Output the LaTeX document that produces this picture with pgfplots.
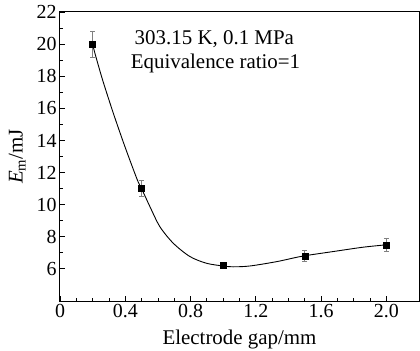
\documentclass[border=0pt]{standalone}
\usepackage{fontspec}
\setmainfont{Liberation Serif}
\usepackage{pgfplots}
\pgfplotsset{compat=1.18}
\begin{document}
\begin{tikzpicture}
\begin{axis}[
  scale only axis, width=359bp, height=289bp,
  xmin=0, xmax=2.2, ymin=4, ymax=22,
  xtick={0,0.4,0.8,1.2,1.6,2.0}, xticklabels={0,0.4,0.8,1.2,1.6,2.0},
  minor x tick num=3,
  ytick={6,8,...,22}, minor y tick num=1,
  tick pos=left, tick align=inside,
  major tick length=5bp, minor tick length=3.5bp,
  every tick/.style={black, line width=0.8bp},
  axis line style={line width=1bp},
  tick label style={font=\fontsize{20}{23}\selectfont},
  label style={font=\fontsize{21}{24}\selectfont},
  /pgf/number format/assume math mode=true,
  xlabel={Electrode gap/mm},
  ylabel={\textit{E}\textsubscript{m}/mJ},
  xlabel shift=5bp,
  ylabel shift=4bp,
  clip=false,
]
\addplot[black, line width=0.9bp, smooth, tension=0.5] coordinates {
(0.2,20) (0.214,19.43) (0.261,17.77) (0.327,15.69) (0.398,13.61) (0.474,11.54)
(0.5,11.0) (0.551,9.88) (0.612,8.63) (0.694,7.60) (0.796,6.77) (0.898,6.35)
(1.0,6.18) (1.06,6.13) (1.163,6.18) (1.327,6.45) (1.449,6.72) (1.5,6.82)
(1.674,7.08) (1.857,7.35) (2.0,7.5)
};
\addplot[only marks, mark=square*, mark size=3bp, black,
  error bars/.cd, y dir=both, y explicit,
  error bar style={gray, line width=0.6bp},
  error mark options={rotate=90, mark size=2.5bp, gray, line width=0.6bp}]
  table[x=x, y=y, y error=e] {
x y e
0.2 20.0 0.8
0.5 11.0 0.5
1.0 6.2 0.15
1.5 6.8 0.35
2.0 7.5 0.43
};
\node[font=\fontsize{21}{24}\selectfont, anchor=base] at (axis cs:0.946,19.95) {303.15 K, 0.1 MPa};
\node[font=\fontsize{21}{24}\selectfont, anchor=base] at (axis cs:0.953,18.51) {Equivalence ratio=1};
\end{axis}
\pgfresetboundingbox
\path ([shift={(-60bp,-50bp)}]current axis.south west) rectangle ([shift={(1bp,12bp)}]current axis.north east);
\end{tikzpicture}
\end{document}
